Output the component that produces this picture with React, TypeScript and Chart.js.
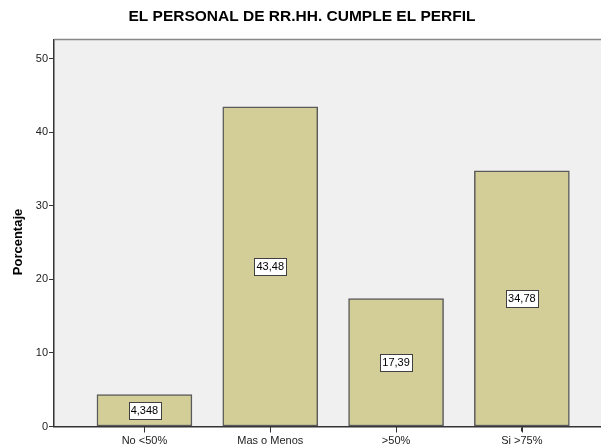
import { useEffect, useRef } from "react";
import { Chart, registerables } from "chart.js";

Chart.register(...registerables);

const chartTitle = "EL PERSONAL DE RR.HH. CUMPLE EL PERFIL";
const yAxisTitle = "Porcentaje";
const categories = ["No <50%", "Mas o Menos", ">50%", "Si >75%"];
const percentages = [4.348, 43.48, 17.39, 34.78];
const valueLabels = ["4,348", "43,48", "17,39", "34,78"];
const yTickValues = [0, 10, 20, 30, 40, 50];

const FONT = "'Liberation Sans', Arial, sans-serif";

const decorPlugin = {
  id: "decor",
  beforeDraw(chart: any) {
    const { ctx, chartArea: a } = chart;
    ctx.save();
    ctx.fillStyle = "#ffffff";
    ctx.fillRect(0, 0, chart.width, chart.height);
    ctx.fillStyle = "#f0f0f0";
    ctx.fillRect(a.left, a.top, a.right - a.left, a.bottom - a.top);
    ctx.restore();
  },
  afterDatasetsDraw(chart: any) {
    const { ctx } = chart;
    const meta = chart.getDatasetMeta(0);
    ctx.save();
    ctx.font = `11px ${FONT}`;
    ctx.textAlign = "center";
    ctx.textBaseline = "middle";
    meta.data.forEach((bar: any, i: number) => {
      const text = valueLabels[i];
      const cx = bar.x;
      const cy = (bar.y + bar.base) / 2;
      const w = ctx.measureText(text).width + 4;
      const h = 17;
      ctx.fillStyle = "#ffffff";
      ctx.fillRect(Math.round(cx - w / 2) + 0.5, Math.round(cy - h / 2) + 0.5, Math.round(w), h);
      ctx.strokeStyle = "#404040";
      ctx.lineWidth = 1;
      ctx.strokeRect(Math.round(cx - w / 2) + 0.5, Math.round(cy - h / 2) + 0.5, Math.round(w), h);
      ctx.fillStyle = "#000000";
      ctx.fillText(text, cx, cy + 1);
    });
    ctx.restore();
  },
  afterDraw(chart: any) {
    const { ctx, chartArea: a } = chart;
    const xs = chart.scales.x;
    ctx.save();
    ctx.strokeStyle = "#888888";
    ctx.lineWidth = 1.5;
    ctx.beginPath();
    ctx.moveTo(a.left, a.top);
    ctx.lineTo(a.right, a.top);
    ctx.stroke();
    // x tick marks
    ctx.strokeStyle = "#333333";
    ctx.lineWidth = 1;
    ctx.beginPath();
    categories.forEach((_, i) => {
      const px = Math.round(xs.getPixelForValue(i)) + 0.5;
      ctx.moveTo(px, a.bottom);
      ctx.lineTo(px, a.bottom + 6);
    });
    ctx.stroke();
    ctx.fillStyle = "#000000";
    ctx.font = `bold 15.5px ${FONT}`;
    ctx.textAlign = "center";
    ctx.textBaseline = "middle";
    ctx.fillText(chartTitle, 302, 17);
    ctx.translate(18, 242);
    ctx.rotate(-Math.PI / 2);
    ctx.font = `bold 13px ${FONT}`;
    ctx.fillText(yAxisTitle, 0, 0);
    ctx.restore();
  },
};

export default function App() {
  const ref = useRef<HTMLCanvasElement | null>(null);
  useEffect(() => {
    if (!ref.current) return;
    const chart = new Chart(ref.current, {
      type: "bar",
      data: {
        datasets: [
          {
            data: percentages.map((v, i) => ({ x: i, y: v })),
            backgroundColor: "#d3ce97",
            borderColor: "#5a5a5a",
            borderWidth: 1.5,
            borderSkipped: false,
            barThickness: 95,
          },
        ],
      },
      options: {
        animation: false,
        responsive: false,
        events: [],
        layout: { padding: { top: 39.5, left: 0, right: 0, bottom: 0 } },
        plugins: { legend: { display: false }, tooltip: { enabled: false }, title: { display: false } },
        scales: {
          x: {
            type: "linear",
            offset: false,
            min: -0.719,
            max: 3.629,
            afterFit: (s: any) => {
              s.height = 19.5;
            },
            afterBuildTicks: (s: any) => {
              s.ticks = categories.map((_, i) => ({ value: i }));
            },
            ticks: {
              callback: (v: any) => categories[Number(v)] ?? "",
              font: { family: FONT, size: 11 },
              color: "#222222",
              padding: 3,
              maxRotation: 0,
              autoSkip: false,
            },
            grid: { offset: false, drawOnChartArea: false, drawTicks: true, tickLength: 5, tickColor: "#333333", tickWidth: 1 },
            border: { display: true, color: "#333333", width: 1.5 },
          },
          y: {
            min: 0,
            max: 52.63,
            afterFit: (s: any) => {
              s.width = 54;
            },
            afterBuildTicks: (s: any) => {
              s.ticks = yTickValues.map((v) => ({ value: v }));
            },
            ticks: {
              font: { family: FONT, size: 11 },
              color: "#222222",
              padding: 1,
            },
            grid: { drawOnChartArea: false, drawTicks: true, tickLength: 5, tickColor: "#333333", tickWidth: 1 },
            border: { display: true, color: "#333333", width: 1.5 },
          },
        },
      },
      plugins: [decorPlugin],
    } as any);
    return () => chart.destroy();
  }, []);
  return (
    <div style={{ position: "absolute", left: 0, top: 0, width: 601, height: 446 }}>
      <canvas ref={ref} width={601} height={446} style={{ display: "block" }} />
    </div>
  );
}
